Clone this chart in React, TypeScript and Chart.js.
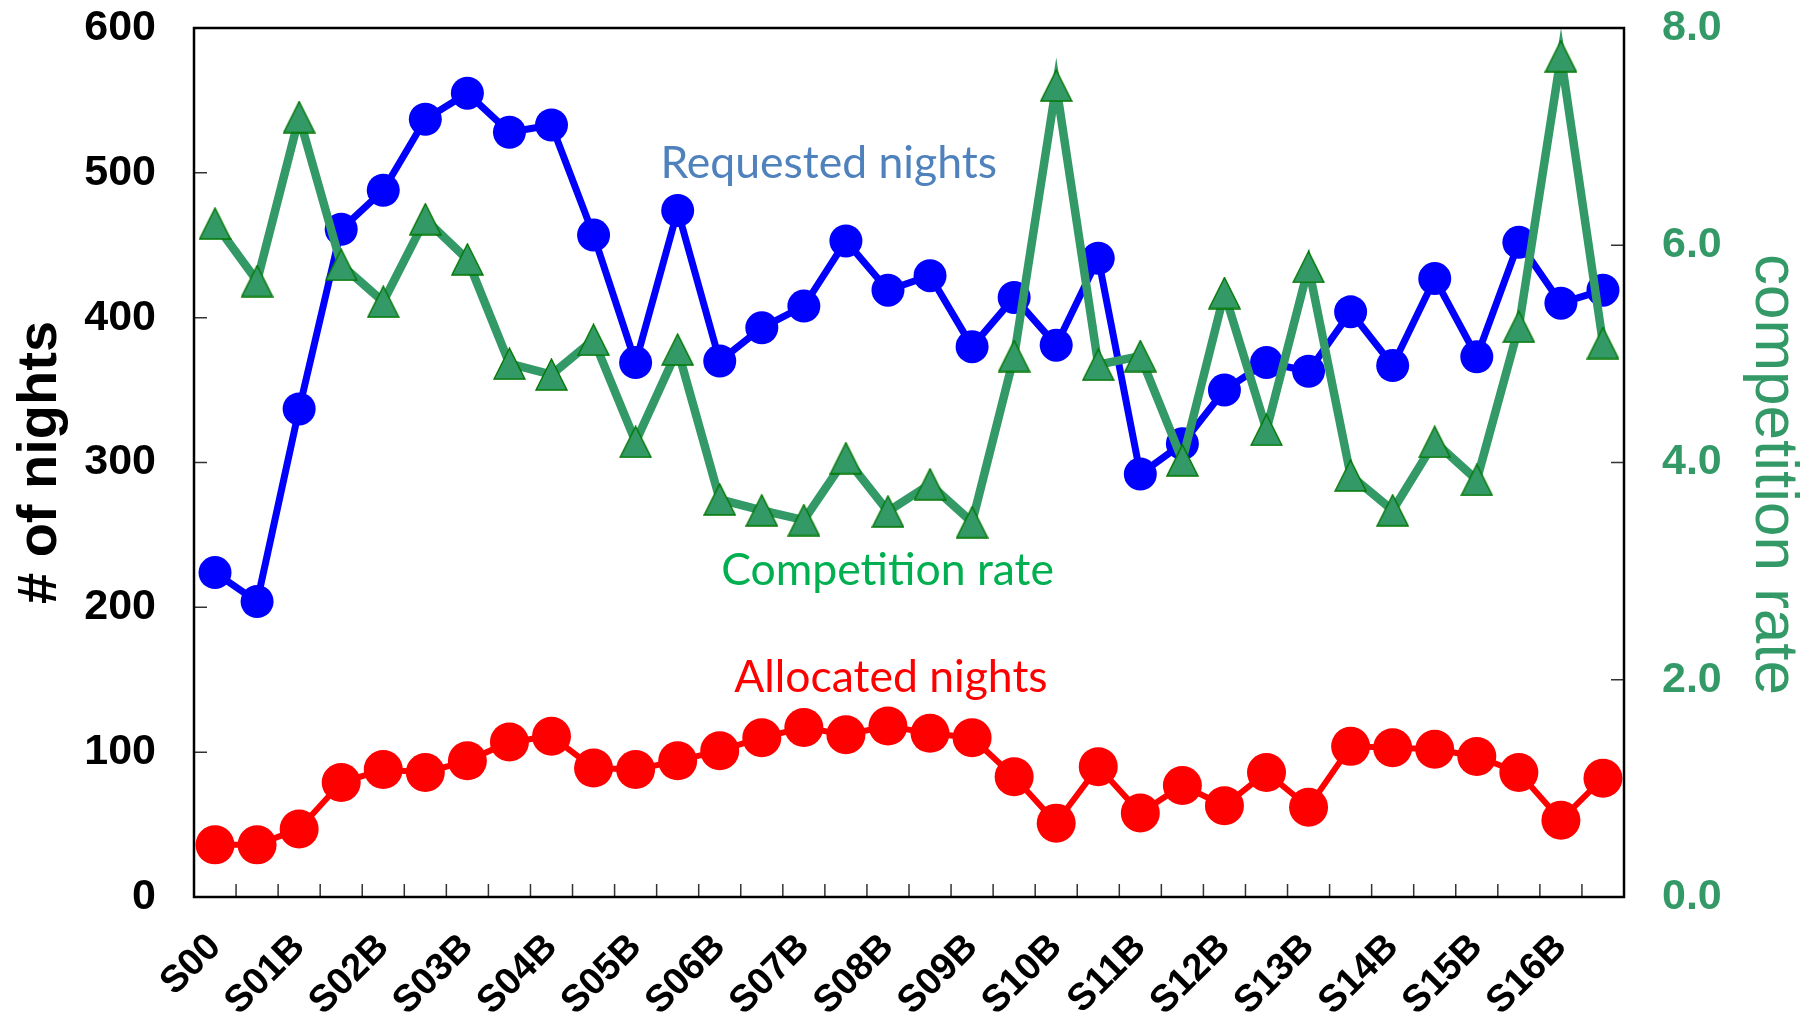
import React, { useEffect, useRef } from 'react';
import { Chart, registerables } from 'chart.js';

Chart.register(...registerables);

// ---- data ----
const semesters = [
  'S00', 'S01A', 'S01B', 'S02A', 'S02B', 'S03A', 'S03B', 'S04A', 'S04B',
  'S05A', 'S05B', 'S06A', 'S06B', 'S07A', 'S07B', 'S08A', 'S08B', 'S09A',
  'S09B', 'S10A', 'S10B', 'S11A', 'S11B', 'S12A', 'S12B', 'S13A', 'S13B',
  'S14A', 'S14B', 'S15A', 'S15B', 'S16A', 'S16B', 'S17A',
];

const xTickLabels = [
  'S00', 'S01B', 'S02B', 'S03B', 'S04B', 'S05B', 'S06B', 'S07B', 'S08B',
  'S09B', 'S10B', 'S11B', 'S12B', 'S13B', 'S14B', 'S15B', 'S16B',
];

const requestedNights = [
  224, 204, 337, 461, 488, 537, 555, 528, 533, 457, 369, 474, 370, 393, 408,
  453, 419, 429, 380, 414, 381, 441, 292, 313, 350, 369, 363, 404, 367, 427,
  373, 452, 410, 419,
];

const allocatedNights = [
  36, 36, 47, 79, 88, 86, 94, 107, 111, 89, 88, 94, 101, 110, 117, 112, 118,
  113, 110, 83, 51, 90, 58, 77, 63, 86, 62, 104, 103, 102, 97, 86, 53, 82,
];

const competitionRate = [
  6.2, 5.67, 7.18, 5.82, 5.48, 6.24, 5.87, 4.91, 4.81, 5.13, 4.19, 5.04, 3.66,
  3.56, 3.47, 4.04, 3.55, 3.8, 3.45, 4.98, 7.47, 4.9, 4.98, 4.02, 5.56, 4.3,
  5.8, 3.88, 3.56, 4.19, 3.84, 5.25, 7.74, 5.1,
];

const leftTicks = [0, 100, 200, 300, 400, 500, 600];
const rightTicks = [0, 2, 4, 6, 8];

const rightTitle = 'competition rate';

// in-plot labels, anchored in data units (category index, left-axis value)
const seriesNotes = [
  { text: 'Requested nights', color: '#4F81BD', at: 14.59, value: 496.5 },
  { text: 'Competition rate', color: '#00B050', at: 15.99, value: 215.3 },
  { text: 'Allocated nights', color: '#FF0000', at: 16.07, value: 141.4 },
];

function makeTriangle(): HTMLCanvasElement {
  const w = 33;
  const h = 33;
  const c = document.createElement('canvas');
  c.width = w;
  c.height = h;
  const g = c.getContext('2d')!;
  g.beginPath();
  g.moveTo(w / 2, 1);
  g.lineTo(w - 1, h - 1);
  g.lineTo(1, h - 1);
  g.closePath();
  g.fillStyle = '#339966';
  g.fill();
  g.lineWidth = 1.4;
  g.strokeStyle = '#007700';
  g.stroke();
  return c;
}

const framePlugin = {
  id: 'frameAndInnerTicks',
  afterDatasetsDraw(chart: any) {
    const { ctx, chartArea } = chart;
    const { left, right, top, bottom } = chartArea;
    const x = chart.scales.x;
    const y = chart.scales.y;
    const y1 = chart.scales.y1;
    const tl = 13;
    ctx.save();
    ctx.strokeStyle = '#333333';
    ctx.lineWidth = 1.5;
    ctx.beginPath();
    for (let i = 1; i < semesters.length; i++) {
      const px = (x.getPixelForValue(i - 1) + x.getPixelForValue(i)) / 2;
      ctx.moveTo(px, bottom);
      ctx.lineTo(px, bottom - tl);
    }
    leftTicks.forEach((v) => {
      const py = y.getPixelForValue(v);
      ctx.moveTo(left, py);
      ctx.lineTo(left + tl, py);
    });
    rightTicks.forEach((v) => {
      const py = y1.getPixelForValue(v);
      ctx.moveTo(right, py);
      ctx.lineTo(right - tl, py);
    });
    ctx.stroke();
    ctx.strokeStyle = '#000000';
    ctx.lineWidth = 2.5;
    ctx.strokeRect(left, top, right - left, bottom - top);

    ctx.font = '44.5px Lato';
    ctx.textAlign = 'center';
    ctx.textBaseline = 'alphabetic';
    seriesNotes.forEach((n) => {
      ctx.fillStyle = n.color;
      ctx.fillText(n.text, x.getPixelForValue(n.at), y.getPixelForValue(n.value));
    });

    // right axis title, rotated to read top-to-bottom
    ctx.translate(y1.right - 37, (top + bottom) / 2 + 12);
    ctx.rotate(Math.PI / 2);
    ctx.font = "62px 'Liberation Sans', Arial, sans-serif";
    ctx.fillStyle = '#339966';
    ctx.textBaseline = 'middle';
    ctx.fillText(rightTitle, 0, 0);
    ctx.restore();
  },
};

const zeroPadding = (s: any) => {
  s.paddingTop = 0;
  s.paddingBottom = 0;
  s.paddingLeft = 0;
  s.paddingRight = 0;
};

export default function App() {
  const ref = useRef<HTMLCanvasElement>(null);

  useEffect(() => {
    document.body.style.margin = '0';
    Chart.defaults.font.family = "'Liberation Sans', Arial, sans-serif";
    const tri = makeTriangle();
    const chart = new Chart(ref.current!, {
      type: 'line',
      data: {
        labels: semesters,
        datasets: [
          {
            label: 'Competition rate',
            data: competitionRate,
            yAxisID: 'y1',
            borderColor: '#339966',
            borderWidth: 8.5,
            pointStyle: tri as any,
            pointRadius: 17,
            pointHoverRadius: 17,
            tension: 0,
            order: 0,
          },
          {
            label: 'Requested nights',
            data: requestedNights,
            yAxisID: 'y',
            borderColor: '#0000FF',
            backgroundColor: '#0000FF',
            borderWidth: 7,
            pointRadius: 16.5,
            pointHoverRadius: 16.5,
            pointBorderWidth: 0,
            pointBackgroundColor: '#0000FF',
            tension: 0,
            order: 1,
          },
          {
            label: 'Allocated nights',
            data: allocatedNights,
            yAxisID: 'y',
            borderColor: '#FF0000',
            backgroundColor: '#FF0000',
            borderWidth: 6,
            pointRadius: 19.5,
            pointHoverRadius: 19.5,
            pointBorderWidth: 0,
            pointBackgroundColor: '#FF0000',
            tension: 0,
            order: 2,
          },
        ],
      },
      options: {
        animation: false,
        responsive: true,
        maintainAspectRatio: false,
        layout: { padding: { top: 28, left: 0, right: 0, bottom: 0 } },
        plugins: {
          legend: { display: false },
          tooltip: { enabled: false },
        },
        scales: {
          x: {
            type: 'category',
            offset: true,
            grid: { display: false, drawTicks: false, offset: true },
            border: { display: false },
            ticks: {
              autoSkip: false,
              minRotation: 45,
              maxRotation: 45,
              padding: 28,
              color: '#000000',
              font: { size: 38, weight: 'bold' },
              callback: (_v: any, idx: number) =>
                xTickLabels.includes(semesters[idx]) ? semesters[idx] : '',
            },
            afterFit: (s: any) => {
              s.height = 119;
              zeroPadding(s);
            },
          },
          y: {
            position: 'left',
            min: 0,
            max: 600,
            grid: { display: false, drawTicks: false },
            border: { display: false },
            afterBuildTicks: (s: any) => {
              s.ticks = leftTicks.map((v) => ({ value: v }));
            },
            ticks: {
              padding: 38,
              color: '#000000',
              font: { size: 43, weight: 'bold' },
              callback: (v: any) => String(v),
            },
            title: {
              display: true,
              text: '# of nights',
              color: '#000000',
              font: { size: 56, weight: 'bold' },
              padding: { top: 7, bottom: 0 },
            },
            afterFit: (s: any) => {
              s.width = 194;
              zeroPadding(s);
            },
          },
          y1: {
            position: 'right',
            min: 0,
            max: 8,
            grid: { display: false, drawTicks: false },
            border: { display: false },
            afterBuildTicks: (s: any) => {
              s.ticks = rightTicks.map((v) => ({ value: v }));
            },
            ticks: {
              padding: 38,
              color: '#339966',
              font: { size: 43, weight: 'bold' },
              callback: (v: any) => Number(v).toFixed(1),
            },
            title: { display: false },
            afterFit: (s: any) => {
              s.width = 186;
              zeroPadding(s);
            },
          },
        },
      },
      plugins: [framePlugin],
    });
    return () => chart.destroy();
  }, []);

  return (
    <div
      style={{
        position: 'fixed',
        left: 0,
        top: 0,
        width: 1810,
        height: 1016,
        background: '#ffffff',
      }}
    >
      <canvas ref={ref} />
    </div>
  );
}
